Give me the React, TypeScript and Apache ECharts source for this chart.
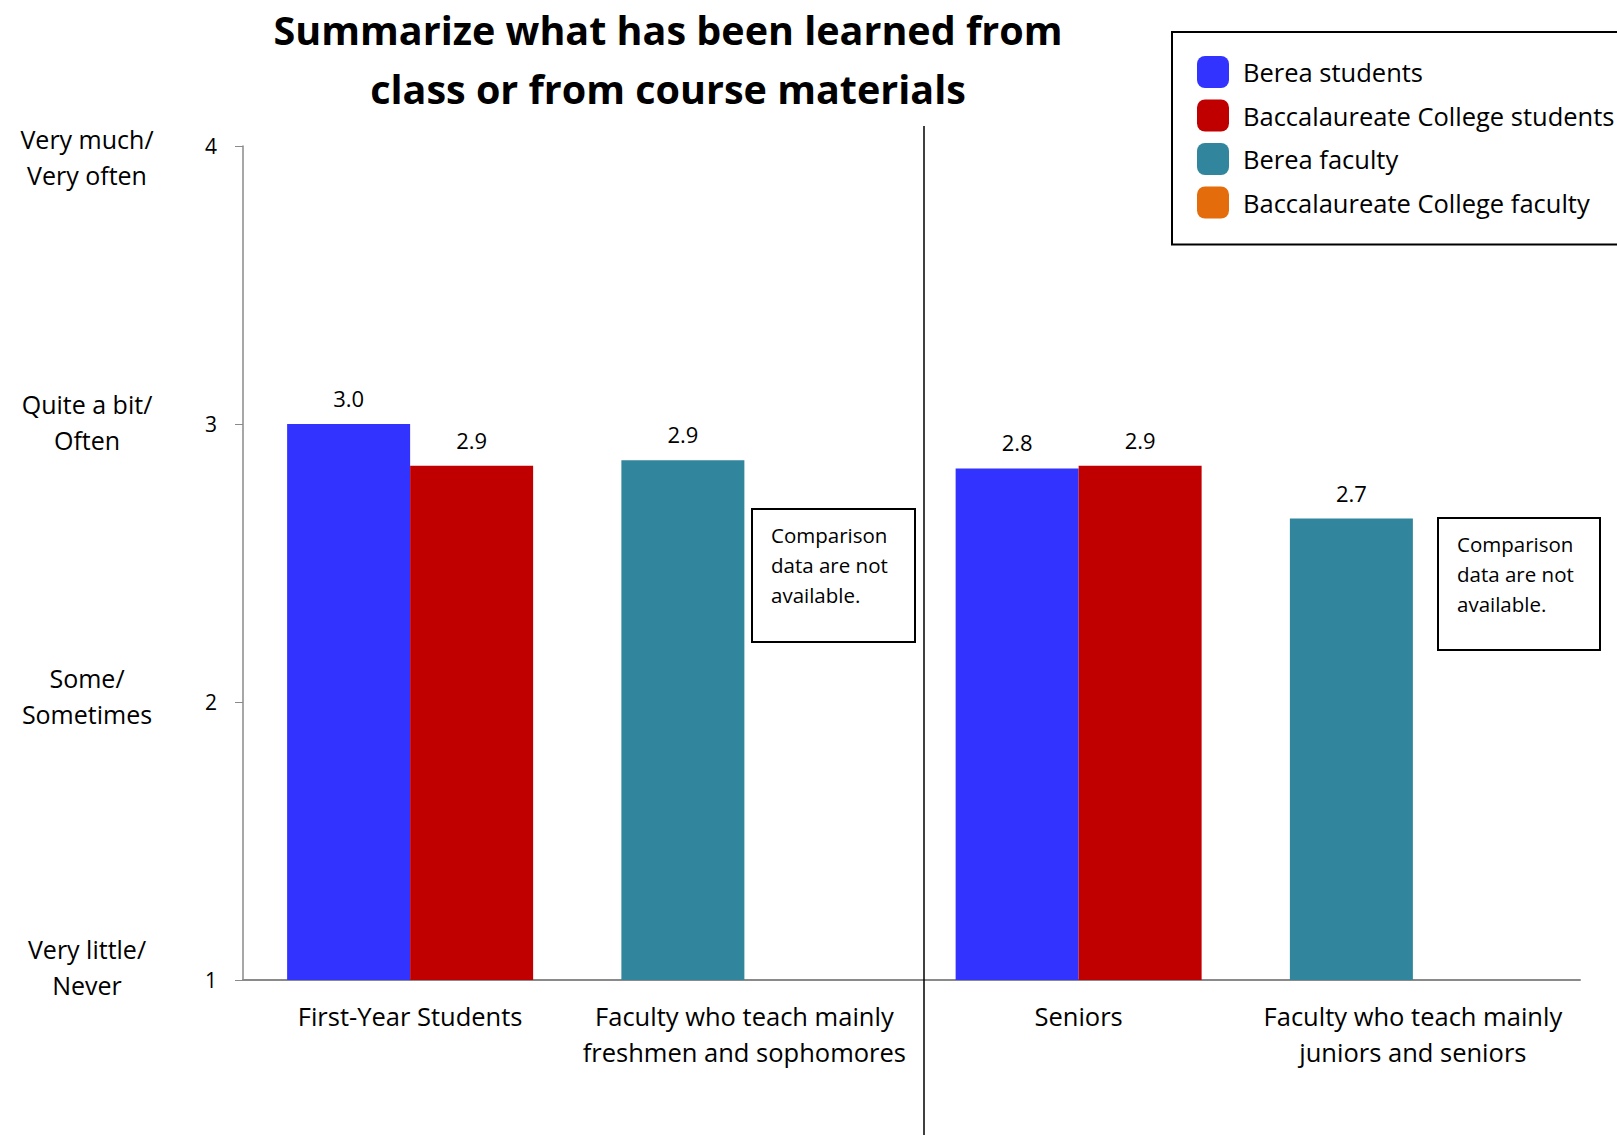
import React, { useEffect, useRef } from "react";
import * as echarts from "echarts";

// Groups along the x axis
const categories = [
  "First-Year Students",
  "Faculty who teach mainly\nfreshmen and sophomores",
  "Seniors",
  "Faculty who teach mainly\njuniors and seniors",
];

// Mean scores per group (null = not applicable / not available)
const bereaStudents = [3.0, null, 2.84, null];
const baccStudents = [2.85, null, 2.85, null];
const bereaFaculty = [null, 2.87, null, 2.66];
const baccFaculty = [null, null, null, null];

// Response scale
const scaleTicks = [1, 2, 3, 4];
const scaleLabels = ["Very little/\nNever", "Some/\nSometimes", "Quite a bit/\nOften", "Very much/\nVery often"];

const seriesNames = [
  "Berea students",
  "Baccalaureate College students",
  "Berea faculty",
  "Baccalaureate College faculty",
];
const colors = ["#3333FF", "#C00000", "#31859C", "#E46C0A"];

const FONT = "Open Sans";

// Spacer lines nudging each two-line scale label off its tick (top spacer, bottom spacer)
const scaleNudge: Record<number, [number, number]> = {
  1: [0, 26],
  2: [0, 12],
  3: [0, 5],
  4: [21, 0],
};

export default function App() {
  const ref = useRef<HTMLDivElement>(null);

  useEffect(() => {
    document.body.style.margin = "0";
    if (!ref.current) return;
    const chart = echarts.init(ref.current, null, { renderer: "svg" });

    const valueLabel = {
      show: true,
      position: "top",
      distance: 15,
      fontFamily: FONT,
      fontSize: 22,
      color: "#000",
      formatter: (p: any) => (p.value == null ? "" : Number(p.value).toFixed(1)),
    };

    const bar = (i: number, data: (number | null)[], stack: string) => ({
      name: seriesNames[i],
      type: "bar",
      stack,
      data,
      barWidth: 123,
      barGap: "0%",
      itemStyle: { color: colors[i] },
      label: valueLabel,
    });

    const note = (x: number, y: number, w: number, h: number) => [
      {
        type: "rect",
        shape: { x, y, width: w, height: h },
        style: { fill: "#fff", stroke: "#000", lineWidth: 2 },
        z: 10,
      },
      {
        type: "text",
        x: x + 19,
        y: y + 11,
        style: {
          text: "Comparison\ndata are not\navailable.",
          fontFamily: FONT,
          fontSize: 20.5,
          lineHeight: 30,
          fill: "#000",
          textAlign: "left",
          textVerticalAlign: "top",
        },
        z: 11,
      },
    ];

    const spacerRich: Record<string, any> = {};
    [5, 12, 21, 26].forEach((h) => {
      spacerRich["s" + h] = { fontSize: 2, lineHeight: h };
    });

    chart.setOption({
      animation: false,
      backgroundColor: "#fff",
      textStyle: { fontFamily: FONT },
      grid: { left: 243, right: 37, top: 146, bottom: 155, containLabel: false },
      legend: {
        orient: "vertical",
        left: 1172,
        top: 32,
        padding: [24, 40, 26, 25],
        itemWidth: 32,
        itemHeight: 32,
        itemGap: 11.5,
        icon: "roundRect",
        borderColor: "#000",
        borderWidth: 2,
        textStyle: { fontFamily: FONT, fontSize: 25.5, color: "#000", padding: [0, 0, 0, 9] },
        data: seriesNames,
      },
      xAxis: {
        type: "category",
        data: categories,
        axisLine: { lineStyle: { color: "#8a8a8a", width: 2 } },
        axisTick: { show: false },
        axisLabel: {
          interval: 0,
          margin: 18,
          fontFamily: FONT,
          fontSize: 25.5,
          lineHeight: 36,
          color: "#000",
        },
      },
      yAxis: [
        {
          type: "value",
          min: 1,
          max: 4,
          interval: 1,
          axisLine: { show: true, lineStyle: { color: "#8a8a8a", width: 1.5 } },
          axisTick: { show: true, length: 8, lineStyle: { color: "#8a8a8a" } },
          splitLine: { show: false },
          axisLabel: { margin: 26, fontFamily: FONT, fontSize: 21, color: "#000" },
        },
        {
          type: "value",
          position: "left",
          min: 1,
          max: 4,
          interval: 1,
          axisLine: { show: false },
          axisTick: { show: false },
          splitLine: { show: false },
          axisLabel: {
            margin: 156,
            align: "center",
            fontFamily: FONT,
            fontSize: 25,
            lineHeight: 36,
            color: "#000",
            rich: spacerRich,
            formatter: (v: number) => {
              const text = scaleLabels[scaleTicks.indexOf(v)];
              if (!text) return "";
              const [top, bottom] = scaleNudge[v] ?? [0, 0];
              let out = text;
              if (top) out = `{s${top}| }\n` + out;
              if (bottom) out = out + `\n{s${bottom}| }`;
              return out;
            },
          },
        },
      ],
      series: [
        bar(0, bereaStudents, "berea"),
        bar(1, baccStudents, "bacc"),
        bar(2, bereaFaculty, "berea"),
        bar(3, baccFaculty, "bacc"),
      ],
      graphic: [
        {
          type: "text",
          x: 668,
          y: 59,
          style: {
            text: "Summarize what has been learned from\nclass or from course materials",
            fontFamily: FONT,
            fontWeight: "bold",
            fontSize: 39.5,
            lineHeight: 59,
            fill: "#000",
            textAlign: "center",
            textVerticalAlign: "middle",
          },
        },
        {
          type: "line",
          shape: { x1: 924, y1: 126, x2: 924, y2: 1135 },
          style: { stroke: "#000", lineWidth: 1.5 },
          z: 5,
        },
        ...note(752, 509, 163, 133),
        ...note(1438, 518, 162, 132),
      ],
    });

    return () => chart.dispose();
  }, []);

  return <div ref={ref} style={{ width: 1617, height: 1135 }} />;
}
